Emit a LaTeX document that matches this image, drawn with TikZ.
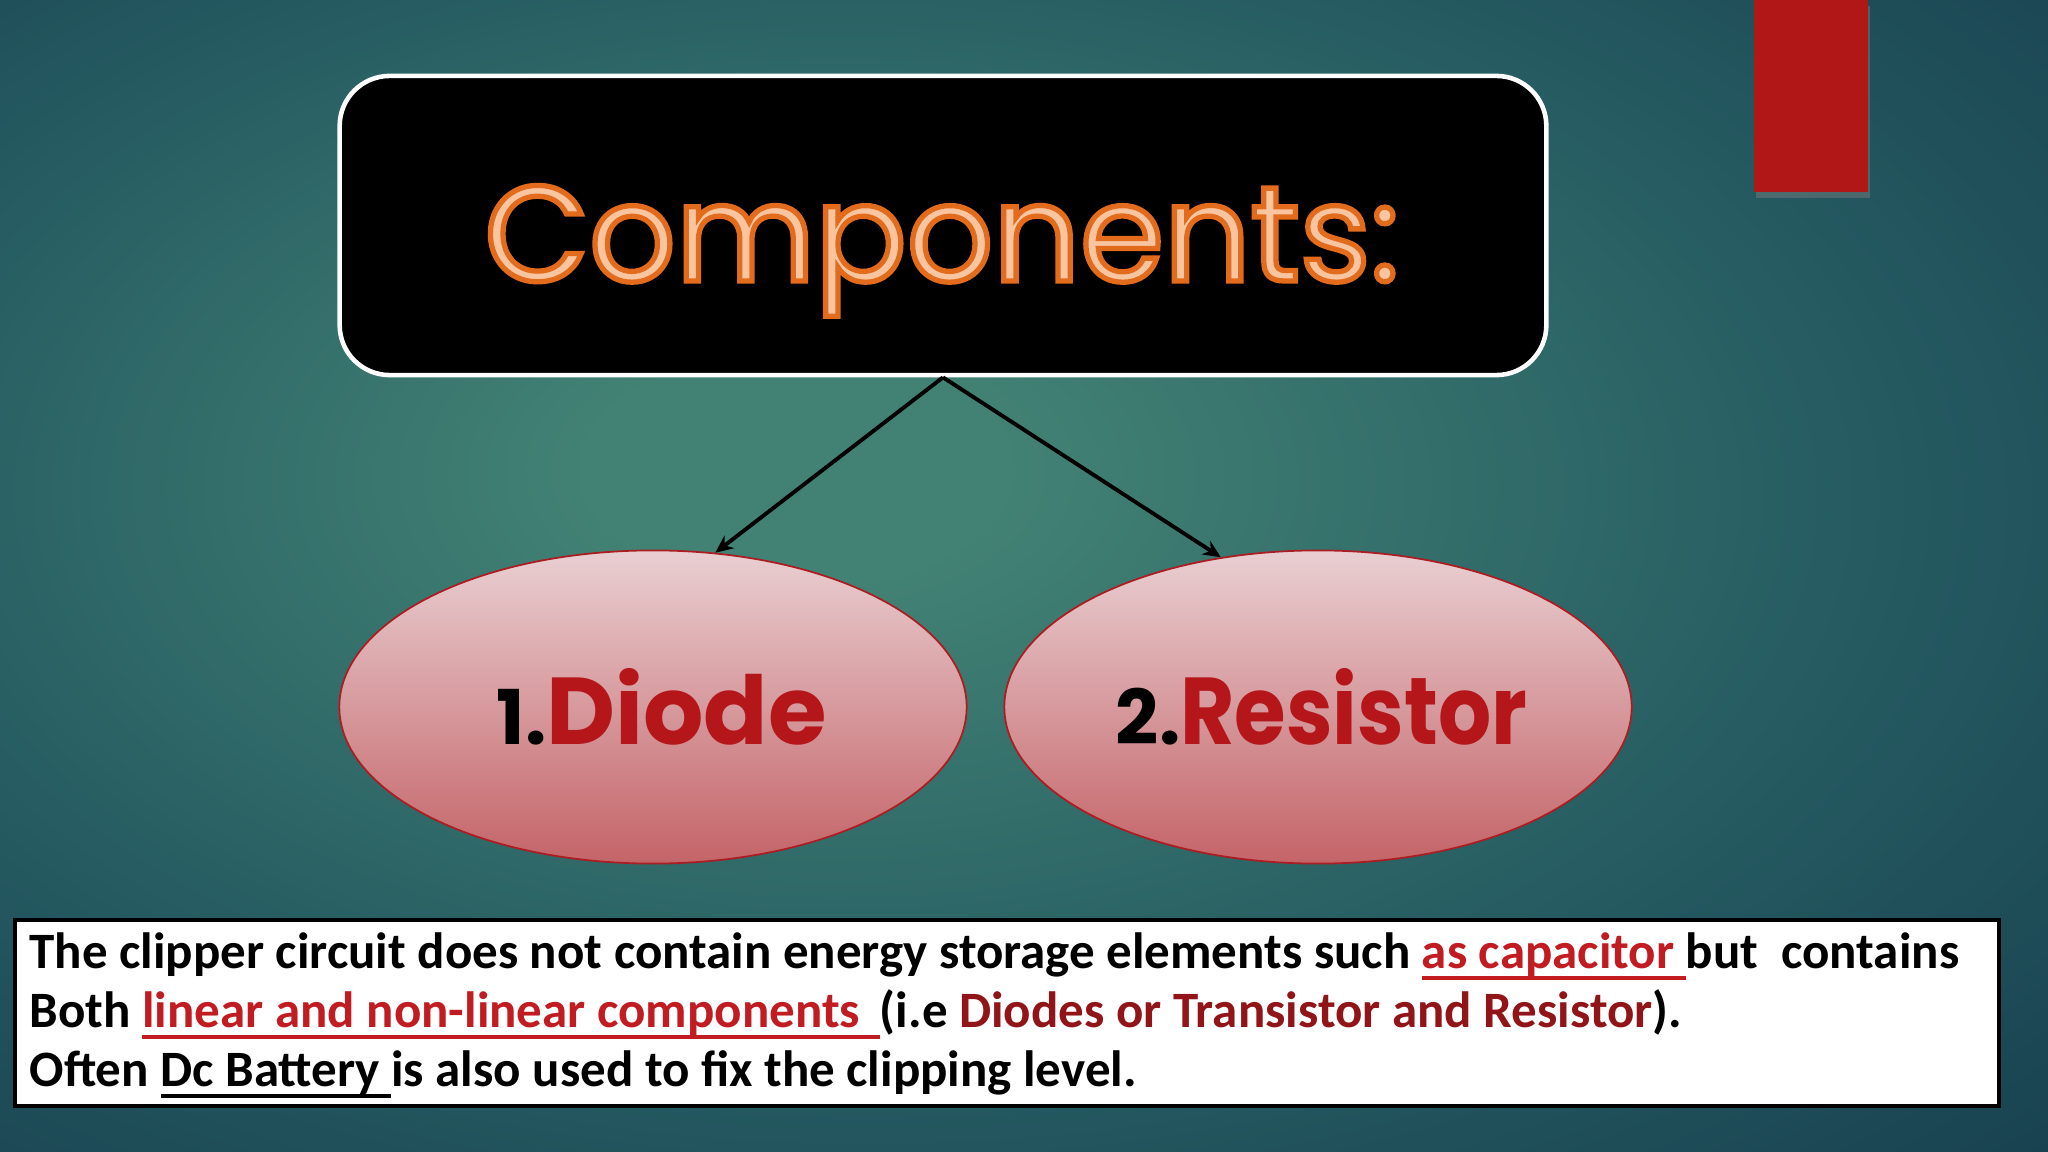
\documentclass[tikz,border=0pt]{standalone}
\usepackage{fontspec}
\usepackage{graphicx}
\setmainfont{Carlito}
\newfontfamily\geo{Poppins}
\usetikzlibrary{shapes.geometric,arrows.meta,shadows}
\definecolor{bgin}{RGB}{66,130,116}
\definecolor{bgmid}{RGB}{38,92,98}
\definecolor{bgout}{RGB}{18,54,72}
\definecolor{redbar}{RGB}{176,23,22}
\definecolor{pinktop}{RGB}{233,207,210}
\definecolor{pinkbot}{RGB}{196,100,104}
\definecolor{ellborder}{RGB}{170,30,35}
\definecolor{lblred}{RGB}{180,22,26}
\definecolor{txtred}{RGB}{192,28,34}
\definecolor{txtdred}{RGB}{145,20,24}
\definecolor{titlefill}{RGB}{249,196,160}
\pgfdeclareradialshading{bgshade}{\pgfpoint{-6bp}{5bp}}{color(0bp)=(bgin); color(5bp)=(bgin); color(24bp)=(bgmid); color(46bp)=(bgout); color(75bp)=(bgout)}
\newcommand\myul[1]{\leavevmode\setbox0\hbox{#1}\rlap{\vrule width\wd0 height-2.3pt depth3.3pt}\box0}
\tikzset{
  titlebox/.style={draw=white, line width=1.3pt, fill=black, rounded corners=0.5cm,
    minimum width=12.06cm, minimum height=2.99cm, inner sep=0pt},
  compell/.style={ellipse, draw=ellborder, line width=0.5pt, top color=pinktop, bottom color=pinkbot,
    minimum width=6.27cm, minimum height=3.13cm, inner sep=0pt},
  conn/.style={line width=1.1pt, black, -{Stealth[length=5pt,width=4.5pt]}},
  notebox/.style={draw=black, line width=1pt, fill=white, minimum width=19.83cm, minimum height=1.86cm, inner sep=0pt},
  noteline/.style={anchor=base west, inner sep=0pt, font=\bfseries\fontsize{14.5}{17}\selectfont}
}
\begin{document}
\begin{tikzpicture}[x=0.01cm,y=-0.01cm]
\useasboundingbox (0,0) rectangle (2048,1152);
\shade[shading=bgshade] (0,0) rectangle (2048,1152);
% red bar
\fill[redbar, drop shadow={shadow xshift=0.6pt, shadow yshift=-1.6pt, opacity=0.45}] (1754,0) rectangle (1868,192);
% title
\node[titlebox] (title) at (943,225.5) {};
\node[anchor=base, inner sep=0pt, text=titlefill] (titletext) at (942,281)
  {\geo\fontsize{38.5}{38.5}\selectfont\special{pdf:literal direct 2 Tr 1.5 w 0.89 0.42 0.11 RG}Components:\special{pdf:literal direct 0 Tr 0 G}};
% ellipses
\node[compell] (diode) at (653,707)
  {\makebox[0pt][c]{\hspace{5pt}{\geo\bfseries\fontsize{21.5}{21.5}\selectfont 1.}{\geo\bfseries\fontsize{27}{27}\selectfont\color{lblred}Diode}}};
\node[compell] (resistor) at (1318,707)
  {\makebox[0pt][c]{\hspace{2pt}{\geo\bfseries\fontsize{21.5}{21.5}\selectfont 2.}\scalebox{0.88}[1]{\geo\bfseries\fontsize{27}{27}\selectfont\color{lblred}Resistor}}};
% connectors
\draw[conn] (title.south) -- (diode.68);
\draw[conn] (title.south) -- (resistor.123);
% note box
\node[notebox, anchor=north west] (note) at (13,918) {};
\node[noteline] (l1) at (29,968) {The clipper circuit does not contain energy storage elements such {\color{txtred}\myul{as capacitor\ }}but~ contains};
\node[noteline] (l2) at (29,1027) {Both {\color{txtred}\myul{linear and non-linear components\ \,}}(i.e {\color{txtdred}Diodes or Transistor and Resistor}).};
\node[noteline] (l3) at (29,1086) {Often \myul{Dc Battery\ }is also used to fix the clipping level.};
\end{tikzpicture}
\end{document}
